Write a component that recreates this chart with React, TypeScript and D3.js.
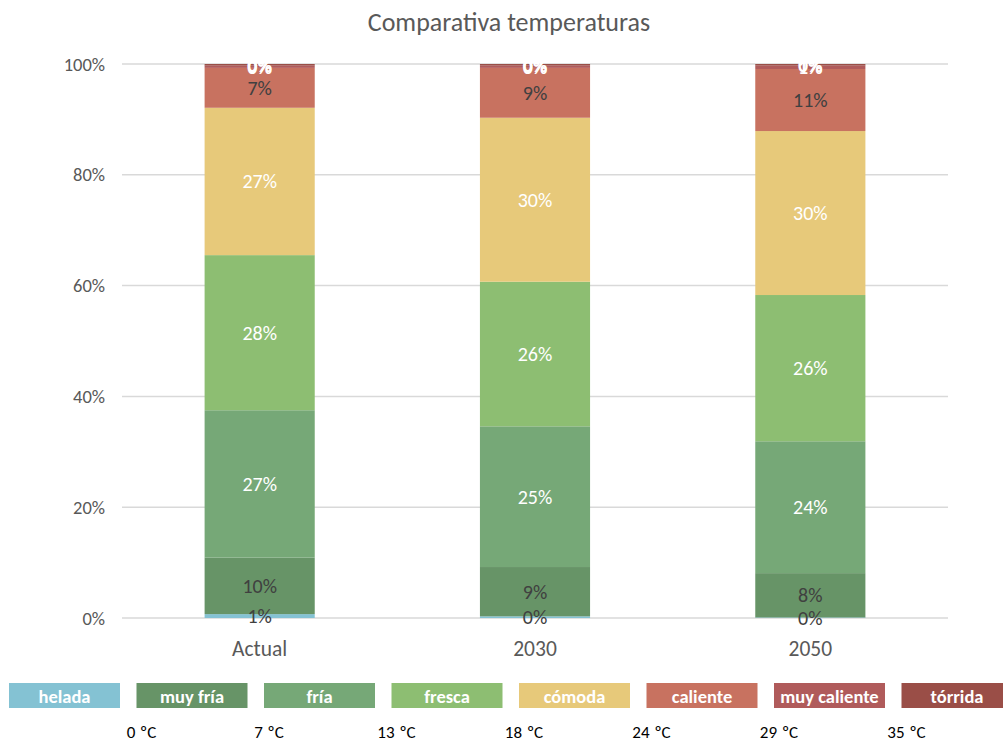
import React from "react";
import * as d3 from "d3";

const categories = ["Actual", "2030", "2050"];
const seriesNames = ["helada", "muy fría", "fría", "fresca", "cómoda", "caliente", "muy caliente", "tórrida"];
const seriesColors = ["#84C2D3", "#679467", "#76A877", "#8DBE72", "#E7C97A", "#C87260", "#B05B5B", "#9A4E47"];
const labelColors = ["#404040", "#404040", "#FFFFFF", "#FFFFFF", "#FFFFFF", "#404040", "#FFFFFF", "#FFFFFF"];
const helada = [0.7, 0.3, 0.1];
const muyFria = [10.2, 8.9, 8.0];
const fria = [26.6, 25.4, 23.8];
const fresca = [28.0, 26.1, 26.4];
const comoda = [26.6, 29.6, 29.6];
const caliente = [7.2, 9.0, 11.2];
const muyCaliente = [0.4, 0.4, 0.6];
const torrida = [0.3, 0.3, 0.3];
const yTicks = [0, 20, 40, 60, 80, 100];
const thresholds = ["0 ºC", "7 ºC", "13 ºC", "18 ºC", "24 ºC", "29 ºC", "35 ºC"];

const seriesValues = [helada, muyFria, fria, fresca, comoda, caliente, muyCaliente, torrida];

const FONT = "Carlito, Lato, 'Open Sans', sans-serif";

export default function App() {
  const W = 1003, H = 743;
  const x = d3.scaleBand<string>().domain(categories).range([122, 948]).paddingInner(0.6).paddingOuter(0.3);
  const y = d3.scaleLinear().domain([0, 100]).range([618, 64]);
  const rows = categories.map((c, i) => {
    const o: any = { cat: c };
    seriesNames.forEach((s, k) => (o[s] = seriesValues[k][i]));
    return o;
  });
  const stacked = d3.stack<any>().keys(seriesNames)(rows);
  const legendX = d3.scaleLinear().domain([0, 8]).range([9, 1029]);
  const legendW = 111;

  return (
    <svg width={W} height={H} style={{ position: "absolute", left: 0, top: 0, background: "#fff" }} fontFamily={FONT}>
      <text x={509} y={31} textAnchor="middle" fontSize={26} fill="#595959">Comparativa temperaturas</text>
      {yTicks.map((t) => (
        <g key={t}>
          <line x1={122} x2={948} y1={y(t)} y2={y(t)} stroke="#D9D9D9" strokeWidth={1.5} />
          <text x={105} y={y(t) + 6.5} textAnchor="end" fontSize={18.5} fill="#595959">{t}%</text>
        </g>
      ))}
      {stacked.map((layer, k) => (
        <g key={layer.key}>
          {layer.map((d, i) => (
            <rect key={i} x={x(categories[i])} width={x.bandwidth()} y={y(d[1])} height={Math.max(0, y(d[0]) - y(d[1]))} fill={seriesColors[k]} />
          ))}
        </g>
      ))}
      {stacked.map((layer, k) => (
        <g key={"l" + layer.key}>
          {layer.map((d, i) => (
            <text key={i} x={(x(categories[i]) as number) + x.bandwidth() / 2} y={(y(d[0]) + y(d[1])) / 2 + 7}
              textAnchor="middle" fontSize={20} fill={labelColors[k]} fontWeight={k >= 6 ? 700 : 400}>
              {Math.round(seriesValues[k][i])}%
            </text>
          ))}
        </g>
      ))}
      {categories.map((c) => (
        <text key={c} x={(x(c) as number) + x.bandwidth() / 2} y={656} textAnchor="middle" fontSize={21.5} fill="#595959">{c}</text>
      ))}
      {seriesNames.map((s, k) => (
        <g key={"lg" + s}>
          <rect x={legendX(k)} y={683} width={legendW} height={25} fill={seriesColors[k]} />
          <text x={legendX(k) + legendW / 2} y={702.5} textAnchor="middle" fontSize={18.5} fontWeight={700} fill="#FFFFFF">{s}</text>
        </g>
      ))}
      {thresholds.map((t, k) => (
        <text key={t} x={legendX(k + 1) + 5} y={738} textAnchor="middle" fontSize={17} wordSpacing={1} fill="#000">{t}</text>
      ))}
    </svg>
  );
}
